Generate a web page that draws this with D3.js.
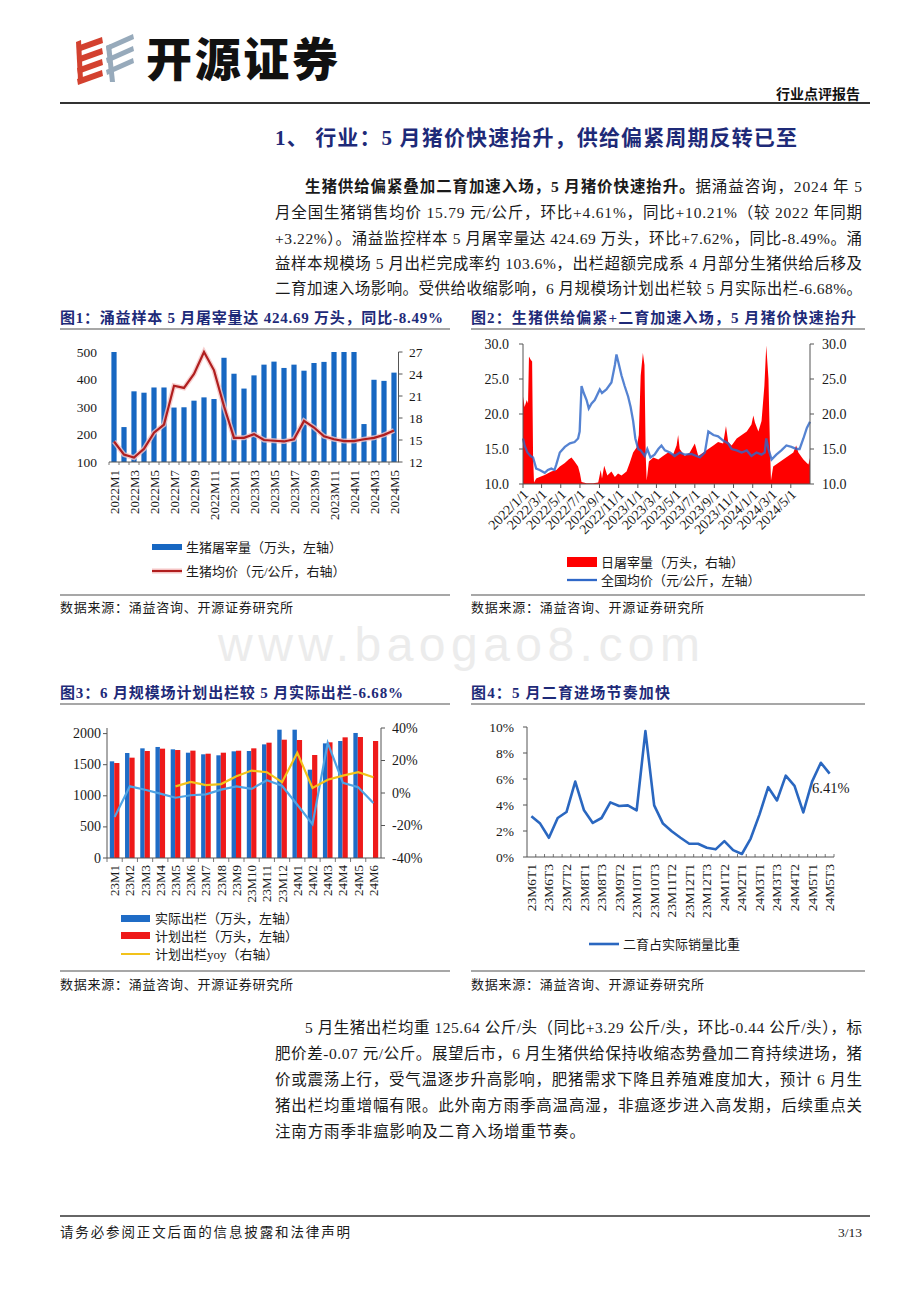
<!DOCTYPE html>
<html><head><meta charset="utf-8">
<script src="https://cdn.jsdelivr.net/npm/d3@7"></script>
<style>body{margin:0;background:#fff}svg{display:block}</style>
</head><body>
<svg id="page" width="920" height="1302"></svg>
<script>
// ---------------- DATA ----------------
const c1Months = ["2022M1","2022M2","2022M3","2022M4","2022M5","2022M6","2022M7","2022M8","2022M9","2022M10","2022M11","2022M12",
  "2023M1","2023M2","2023M3","2023M4","2023M5","2023M6","2023M7","2023M8","2023M9","2023M10","2023M11","2023M12",
  "2024M1","2024M2","2024M3","2024M4","2024M5"];
const c1Slaughter = [500,227,357,352,371,371,298,299,323,335,329,479,421,367,415,454,465,442,454,432,460,464,500,500,500,238,399,395,425];
const c1Price = [14.8,13.0,12.6,13.8,16.0,17.1,22.4,22.1,24.0,27.0,24.5,19.6,15.3,15.3,15.8,15.0,14.9,14.8,15.1,17.6,16.7,15.5,15.1,14.85,14.85,15.1,15.3,15.7,16.3];
const c1LeftTicks = [100,200,300,400,500];
const c1RightTicks = [12,15,18,21,24,27];

const c2RedDates = ["2022-01-01","2022-01-06","2022-01-13","2022-01-17","2022-01-20","2022-01-25","2022-01-30","2022-02-02","2022-02-05","2022-02-12","2022-02-23","2022-03-11","2022-04-01","2022-04-17","2022-04-28","2022-05-14","2022-05-26","2022-06-04","2022-06-14","2022-06-25","2022-07-01","2022-07-06","2022-07-22","2022-08-12","2022-08-28","2022-09-05","2022-09-09","2022-09-16","2022-09-26","2022-10-09","2022-10-20","2022-10-30","2022-11-10","2022-11-26","2022-12-06","2022-12-17","2022-12-28","2023-01-04","2023-01-10","2023-01-17","2023-01-22","2023-01-26","2023-01-29","2023-02-05","2023-02-19","2023-03-07","2023-03-22","2023-04-07","2023-04-23","2023-05-04","2023-05-09","2023-05-14","2023-05-30","2023-06-15","2023-07-01","2023-07-12","2023-07-28","2023-08-13","2023-08-29","2023-09-13","2023-09-29","2023-10-08","2023-10-15","2023-10-26","2023-11-11","2023-11-27","2023-12-13","2023-12-28","2024-01-03","2024-01-08","2024-01-19","2024-01-29","2024-02-07","2024-02-13","2024-02-20","2024-02-25","2024-02-28","2024-03-06","2024-03-22","2024-04-07","2024-04-23","2024-05-09","2024-05-18","2024-05-25","2024-06-10","2024-06-21","2024-06-26","2024-07-01"];
const c2RedVals = [22.5,21.0,22.0,21.5,28.2,27.8,27.5,14.0,10.2,10.8,11.0,11.3,11.8,12.0,12.5,13.0,13.5,13.8,13.2,12.5,11.5,10.3,10.1,10.1,10.2,12.0,10.8,12.6,11.2,11.8,11.0,11.5,11.2,11.8,13.0,14.5,15.2,17.0,25.5,28.7,27.0,14.0,10.5,13.2,13.8,13.5,14.0,14.5,14.2,15.5,17.0,15.0,14.0,14.5,15.8,14.0,14.5,15.0,15.5,16.0,15.8,18.3,16.0,15.5,16.5,17.0,17.5,18.5,19.8,18.8,17.5,19.0,24.0,29.8,25.0,15.0,10.5,12.5,13.0,13.5,14.0,14.5,15.5,14.5,13.5,13.0,12.8,13.7];
const c2BlueDates = ["2022-01-01","2022-01-06","2022-01-15","2022-01-25","2022-02-02","2022-02-07","2022-02-12","2022-02-23","2022-03-11","2022-03-21","2022-04-01","2022-04-11","2022-04-17","2022-04-28","2022-05-14","2022-05-30","2022-06-14","2022-06-25","2022-06-30","2022-07-06","2022-07-13","2022-07-22","2022-07-29","2022-08-07","2022-08-17","2022-09-02","2022-09-09","2022-09-23","2022-10-09","2022-10-20","2022-10-25","2022-11-01","2022-11-10","2022-11-20","2022-12-01","2022-12-09","2022-12-17","2022-12-24","2023-01-02","2023-01-10","2023-01-23","2023-01-31","2023-02-10","2023-02-23","2023-03-07","2023-03-17","2023-03-28","2023-04-13","2023-04-28","2023-05-14","2023-05-30","2023-06-20","2023-07-06","2023-07-17","2023-08-02","2023-08-13","2023-08-29","2023-09-13","2023-09-29","2023-10-15","2023-10-26","2023-11-11","2023-11-27","2023-12-13","2023-12-28","2024-01-13","2024-01-29","2024-02-08","2024-02-13","2024-02-20","2024-03-01","2024-03-16","2024-04-01","2024-04-17","2024-05-03","2024-05-19","2024-05-29","2024-06-10","2024-06-21","2024-07-01"];
const c2BlueVals = [16.5,15.5,14.5,14.0,13.8,13.0,12.2,12.0,11.6,12.0,12.2,12.0,12.8,14.5,15.3,15.8,16.0,16.5,17.5,24.0,23.0,22.0,20.8,21.5,22.0,23.5,23.0,23.5,24.5,27.0,28.5,27.2,25.5,24.0,22.5,21.0,19.0,16.5,15.0,14.8,14.0,15.0,13.8,14.2,15.0,15.5,14.8,14.5,14.0,14.5,14.2,14.3,14.0,13.8,14.5,17.5,17.0,16.8,16.2,15.8,15.0,14.8,14.5,14.8,14.0,14.5,14.2,14.5,16.5,15.0,13.5,14.2,14.8,15.5,15.3,15.0,15.0,16.5,18.0,18.9];
const c2TickLabels = ["2022/1/1","2022/3/1","2022/5/1","2022/7/1","2022/9/1","2022/11/1","2023/1/1","2023/3/1","2023/5/1","2023/7/1","2023/9/1","2023/11/1","2024/1/1","2024/3/1","2024/5/1"];
const c2YTicks = [10,15,20,25,30];

const c3Cats = ["23M1","23M2","23M3","23M4","23M5","23M6","23M7","23M8","23M9","23M10","23M11","23M12","24M1","24M2","24M3","24M4","24M5","24M6"];
const c3Actual = [1554,1688,1763,1785,1747,1693,1667,1651,1715,1720,1827,2063,2063,1420,1843,1881,2010,null];
const c3Plan = [1527,1613,1720,1758,1736,1726,1677,1693,1725,1763,1854,1902,1897,1656,1860,1940,1945,1881];
const c3ActualYoy = [-14.8,4.1,2.0,-0.4,-2.9,-1.4,-0.8,2.1,4.1,2.5,7.8,4.5,-7.2,-19.2,30.9,6.2,3.5,-6.2];
const c3PlanYoy = [null,null,null,null,4.1,6.8,4.9,5.5,10.3,13.8,12.8,6.6,24.7,3.1,8.2,10.7,12.8,9.7];
const c3LeftTicks = [0,500,1000,1500,2000];
const c3RightTicks = [-40,-20,0,20,40];

const c4Cats = ["23M6T1","23M6T2","23M6T3","23M7T1","23M7T2","23M7T3","23M8T1","23M8T2","23M8T3","23M9T1","23M9T2","23M9T3",
  "23M10T1","23M10T2","23M10T3","23M11T1","23M11T2","23M11T3","23M12T1","23M12T2","23M12T3","24M1T1","24M1T2","24M1T3",
  "24M2T1","24M2T3","24M3T1","24M3T2","24M3T3","24M4T1","24M4T2","24M4T3","24M5T1","24M5T2","24M5T3"];
const c4Vals = [3.13,2.57,1.48,3.0,3.46,5.8,3.59,2.62,3.0,4.2,3.92,3.97,3.59,9.69,3.97,2.57,1.98,1.48,1.02,1.02,0.71,0.59,1.22,0.53,0.23,1.42,3.26,5.37,4.35,6.26,5.47,3.43,5.8,7.25,6.41];
const c4Ticks = [0,2,4,6,8,10];

// ---------------- HELPERS ----------------
const svg = d3.select('#page');
const SERIF = "'Liberation Serif','Noto Sans CJK SC',serif";
const NAVY = '#1e2a78';
const TXT = '#1a1a1a';
function text(x, y, s, o = {}) {
  const t = svg.append('text').attr('x', x).attr('y', y).text(s)
    .attr('font-family', o.family || SERIF).attr('font-size', o.size || 13)
    .attr('fill', o.fill || TXT).attr('dominant-baseline', 'central');
  if (o.weight) t.attr('font-weight', o.weight);
  if (o.anchor) t.attr('text-anchor', o.anchor);
  if (o.len) t.attr('textLength', o.len).attr('lengthAdjust', 'spacing');
  if (o.rotate != null) t.attr('transform', `rotate(${o.rotate},${x},${y})`);
  return t;
}
function line(x1, y1, x2, y2, c, w) {
  return svg.append('line').attr('x1', x1).attr('y1', y1).attr('x2', x2).attr('y2', y2)
    .attr('stroke', c || '#444').attr('stroke-width', w || 1);
}

// ---------------- HEADER ----------------
const logo = svg.append('g');
const red = '#d3412f', gray = '#97aabb';
[0, 1, 2, 3].forEach(i => {
  const y = 40 + i * 11;
  logo.append('polygon').attr('points', `77,${y+6} 102,${y-3} 103,${y+3} 78,${y+12}`).attr('fill', red);
});
logo.append('polygon').attr('points', '76,42 81,40 83,80 78,80').attr('fill', red);
[0, 1, 2].forEach(i => {
  const y = 40 + i * 12;
  logo.append('polygon').attr('points', `106,${y+6} 133,${y-6} 134,${y-1} 107,${y+11}`).attr('fill', gray);
});
logo.append('polygon').attr('points', '106,46 111,44 115,82 110,82').attr('fill', gray);

text(146, 56, '开源证券', {family: "'Noto Sans CJK SC',sans-serif", size: 46, weight: 900, fill: '#111', len: 192});
text(860, 93, '行业点评报告', {family: "'Noto Sans CJK SC',sans-serif", size: 14, weight: 700, anchor: 'end', fill: '#111'});
line(60, 103, 870, 103, '#333', 2);

// heading
text(275, 138, '1、 行业：5 月猪价快速抬升，供给偏紧周期反转已至', {size: 21, weight: 700, fill: NAVY, len: 522});

// paragraph 1
const p1 = svg.append('text').attr('x', 305).attr('y', 186).attr('font-family', SERIF).attr('font-size', 15.5)
  .attr('fill', TXT).attr('dominant-baseline', 'central').attr('textLength', 557).attr('lengthAdjust', 'spacing');
p1.append('tspan').attr('font-weight', 700).text('生猪供给偏紧叠加二育加速入场，5 月猪价快速抬升。');
p1.append('tspan').text('据涌益咨询，2024 年 5');
const para1 = [
  '月全国生猪销售均价 15.79 元/公斤，环比+4.61%，同比+10.21%（较 2022 年同期',
  '+3.22%）。涌益监控样本 5 月屠宰量达 424.69 万头，环比+7.62%，同比-8.49%。涌',
  '益样本规模场 5 月出栏完成率约 103.6%，出栏超额完成系 4 月部分生猪供给后移及',
  '二育加速入场影响。受供给收缩影响，6 月规模场计划出栏较 5 月实际出栏-6.68%。'
];
const para1Y = [212, 238, 263, 288];
para1.forEach((s, i) => text(275, para1Y[i], s, {size: 15.5, len: 587}));

// watermark
text(218, 644, 'www.baogao8.com', {family: "'Liberation Sans',sans-serif", size: 48, fill: '#ececec', len: 482});

// ---------------- CHART FRAMES ----------------
function frame(x1, x2, yTitle, yUnder, title, titleLen, ySep, ySrc) {
  text(x1, yTitle, title, {size: 15, weight: 700, fill: NAVY, len: titleLen});
  line(x1, yUnder, x2, yUnder, '#8a8a8a', 1.5);
  line(x1, ySep, x2, ySep, '#8a8a8a', 1.5);
  text(x1, ySrc, '数据来源：涌益咨询、开源证券研究所', {size: 13, len: 233});
}
frame(60, 450, 318, 329, '图1：涌益样本 5 月屠宰量达 424.69 万头，同比-8.49%', 383, 595, 607);
frame(471, 865, 318, 329, '图2：生猪供给偏紧+二育加速入场，5 月猪价快速抬升', 385, 595, 607);
frame(60, 450, 693, 704, '图3：6 月规模场计划出栏较 5 月实际出栏-6.68%', 343, 971, 984);
frame(471, 865, 693, 704, '图4：5 月二育进场节奏加快', 199, 971, 984);

// ---------------- CHART 1 ----------------
{
  const x = d3.scaleBand().domain(c1Months).range([109, 399]);
  const yL = d3.scaleLinear().domain([100, 500]).range([462, 352]);
  const yR = d3.scaleLinear().domain([12, 27]).range([462, 352]);
  const g = svg.append('g');
  g.selectAll('rect.b').data(c1Months).join('rect')
    .attr('x', d => x(d) + x.bandwidth() / 2 - 2.6).attr('width', 5.2)
    .attr('y', (d, i) => yL(c1Slaughter[i])).attr('height', (d, i) => 462 - yL(c1Slaughter[i]))
    .attr('fill', '#1767c2');
  const ln = d3.line().x((d, i) => x(c1Months[i]) + x.bandwidth() / 2).y(d => yR(d));
  g.append('path').attr('d', ln(c1Price)).attr('fill', 'none').attr('stroke', '#f5c4c4').attr('stroke-width', 5).attr('stroke-opacity', 0.8);
  g.append('path').attr('d', ln(c1Price)).attr('fill', 'none').attr('stroke', '#b01e1e').attr('stroke-width', 2.2);
  line(109, 462, 399, 462, '#555', 1);
  line(398.5, 352, 398.5, 462, '#555', 1);
  c1RightTicks.forEach(v => { line(398.5, yR(v), 402.5, yR(v), '#555', 1); text(409, yR(v), String(v), {size: 13.5}); });
  c1LeftTicks.forEach(v => text(97, yL(v), String(v), {size: 13.5, anchor: 'end'}));
  c1Months.forEach((m, i) => {
    line(x(m), 462, x(m), 465, '#555', 0.8);
    if (i % 2 === 0) text(x(m) + x.bandwidth() / 2, 470, m, {size: 13, anchor: 'end', rotate: -90});
  });
  svg.append('rect').attr('x', 152).attr('y', 544).attr('width', 30).attr('height', 6).attr('fill', '#1767c2');
  text(186, 547, '生猪屠宰量（万头，左轴）', {size: 13});
  line(152, 571, 182, 571, '#f5c4c4', 5);
  line(152, 571, 182, 571, '#b01e1e', 2);
  text(186, 571, '生猪均价（元/公斤，右轴）', {size: 13});
}

// ---------------- CHART 2 ----------------
{
  const parse = d3.timeParse('%Y-%m-%d');
  const x = d3.scaleTime().domain([parse('2022-01-01'), parse('2024-07-01')]).range([523, 810]);
  const y = d3.scaleLinear().domain([10, 30]).range([484, 344]);
  const g = svg.append('g');
  const area = d3.area().x((d, i) => x(parse(c2RedDates[i]))).y0(484).y1(d => y(d));
  g.append('path').attr('d', area(c2RedVals)).attr('fill', '#ff0000');
  const ln = d3.line().x((d, i) => x(parse(c2BlueDates[i]))).y(d => y(d));
  g.append('path').attr('d', ln(c2BlueVals)).attr('fill', 'none').attr('stroke', '#2f68c8').attr('stroke-width', 2.3).attr('stroke-opacity', 0.82);
  line(523, 344, 523, 484, '#555', 1);
  line(810, 344, 810, 484, '#555', 1);
  line(523, 484, 810, 484, '#555', 1);
  c2YTicks.forEach(v => {
    line(519, y(v), 523, y(v), '#555', 1);
    line(810, y(v), 814, y(v), '#555', 1);
    text(509, y(v), v.toFixed(1), {size: 14, anchor: 'end'});
    text(822, y(v), v.toFixed(1), {size: 14});
  });
  c2TickLabels.forEach(s => {
    const p = s.split('/');
    const d = new Date(+p[0], +p[1] - 1, +p[2]);
    const xx = x(d);
    line(xx, 484, xx, 488, '#555', 1);
    text(xx + 3, 492, s, {size: 14, anchor: 'end', rotate: -45});
  });
  svg.append('rect').attr('x', 567).attr('y', 557).attr('width', 30).attr('height', 10).attr('fill', '#ff0000');
  text(601, 562, '日屠宰量（万头，右轴）', {size: 13});
  line(567, 580, 597, 580, '#2f68c8', 2.3);
  text(601, 580, '全国均价（元/公斤，左轴）', {size: 13});
}

// ---------------- CHART 3 ----------------
{
  const x = d3.scaleBand().domain(c3Cats).range([107, 381]);
  const yL = d3.scaleLinear().domain([0, 2090]).range([858, 728]);
  const yR = d3.scaleLinear().domain([-40, 40]).range([858, 728]);
  const g = svg.append('g');
  const cx = d => x(d) + x.bandwidth() / 2;
  g.selectAll('rect.a').data(c3Cats).join('rect')
    .attr('x', d => cx(d) - 4.8).attr('width', 4.4)
    .attr('y', (d, i) => c3Actual[i] == null ? 858 : yL(c3Actual[i]))
    .attr('height', (d, i) => c3Actual[i] == null ? 0 : 858 - yL(c3Actual[i]))
    .attr('fill', '#1f6cc6');
  g.selectAll('rect.p').data(c3Cats).join('rect')
    .attr('x', d => cx(d) - 0.4).attr('width', 5.2)
    .attr('y', (d, i) => yL(c3Plan[i])).attr('height', (d, i) => 858 - yL(c3Plan[i]))
    .attr('fill', '#ee1a1a');
  const lnA = d3.line().defined(d => d != null).x((d, i) => cx(c3Cats[i])).y(d => yR(d));
  g.append('path').attr('d', lnA(c3ActualYoy)).attr('fill', 'none').attr('stroke', '#4ea3e4').attr('stroke-width', 2.2);
  g.append('path').attr('d', lnA(c3PlanYoy)).attr('fill', 'none').attr('stroke', '#f2c21a').attr('stroke-width', 2.2);
  line(107, 728, 107, 858, '#555', 1);
  line(381, 728, 381, 858, '#555', 1);
  line(107, 858, 381, 858, '#555', 1);
  c3LeftTicks.forEach(v => { line(103, yL(v), 107, yL(v), '#555', 1); text(101, yL(v), String(v), {size: 14, anchor: 'end'}); });
  c3RightTicks.forEach(v => { line(381, yR(v), 385, yR(v), '#555', 1); text(392, yR(v), v + '%', {size: 14}); });
  c3Cats.forEach(c => {
    line(x(c), 858, x(c), 862, '#555', 0.8);
    text(cx(c), 865, c, {size: 13, anchor: 'end', rotate: -90});
  });
  svg.append('rect').attr('x', 121).attr('y', 915).attr('width', 29).attr('height', 7).attr('fill', '#1f6cc6');
  text(155, 918, '实际出栏（万头，左轴）', {size: 13});
  svg.append('rect').attr('x', 121).attr('y', 932).attr('width', 29).attr('height', 7).attr('fill', '#ee1a1a');
  text(155, 936, '计划出栏（万头，左轴）', {size: 13});
  line(121, 954, 150, 954, '#f2c21a', 2);
  text(155, 954, '计划出栏yoy（右轴）', {size: 13});
}

// ---------------- CHART 4 ----------------
{
  const x = d3.scaleBand().domain(c4Cats).range([527, 834]);
  const y = d3.scaleLinear().domain([0, 10]).range([857, 727]);
  const cx = d => x(d) + x.bandwidth() / 2;
  const ln = d3.line().x((d, i) => cx(c4Cats[i])).y(d => y(d));
  svg.append('path').attr('d', ln(c4Vals)).attr('fill', 'none').attr('stroke', '#2a67c0').attr('stroke-width', 2.6).attr('stroke-linejoin', 'round');
  line(527, 727, 527, 857, '#555', 1);
  line(527, 857, 834, 857, '#555', 1);
  c4Ticks.forEach(v => { line(523, y(v), 527, y(v), '#555', 1); text(514, y(v), v + '%', {size: 13.5, anchor: 'end'}); });
  c4Cats.forEach(c => line(x(c) + x.bandwidth(), 854, x(c) + x.bandwidth(), 857, '#555', 0.8));
  c4Cats.forEach((c, i) => { if (i % 2 === 0) text(cx(c), 864, c, {size: 13.5, anchor: 'end', rotate: -90}); });
  const last = c4Vals.length - 1;
  text(812, 788, c4Vals[last].toFixed(2) + '%', {size: 14.5});
  line(589, 944, 619, 944, '#2a67c0', 2.6);
  text(623, 944, '二育占实际销量比重', {size: 13});
}

// ---------------- BOTTOM PARAGRAPH ----------------
const para2 = [
  '5 月生猪出栏均重 125.64 公斤/头（同比+3.29 公斤/头，环比-0.44 公斤/头），标',
  '肥价差-0.07 元/公斤。展望后市，6 月生猪供给保持收缩态势叠加二育持续进场，猪',
  '价或震荡上行，受气温逐步升高影响，肥猪需求下降且养殖难度加大，预计 6 月生',
  '猪出栏均重增幅有限。此外南方雨季高温高湿，非瘟逐步进入高发期，后续重点关',
  '注南方雨季非瘟影响及二育入场增重节奏。'
];
const para2Y = [1027, 1053, 1079, 1105, 1131];
para2.forEach((s, i) => {
  if (i === 0) text(305, para2Y[i], s, {size: 15.5, len: 557});
  else if (i < 4) text(275, para2Y[i], s, {size: 15.5, len: 587});
  else text(275, para2Y[i], s, {size: 15.5, len: 310});
});

// ---------------- FOOTER ----------------
line(60, 1216, 870, 1216, '#333', 1.5);
text(60, 1232, '请务必参阅正文后面的信息披露和法律声明', {size: 13.5, len: 290});
text(862, 1232, '3/13', {size: 13.5, anchor: 'end'});
</script>
</body></html>
